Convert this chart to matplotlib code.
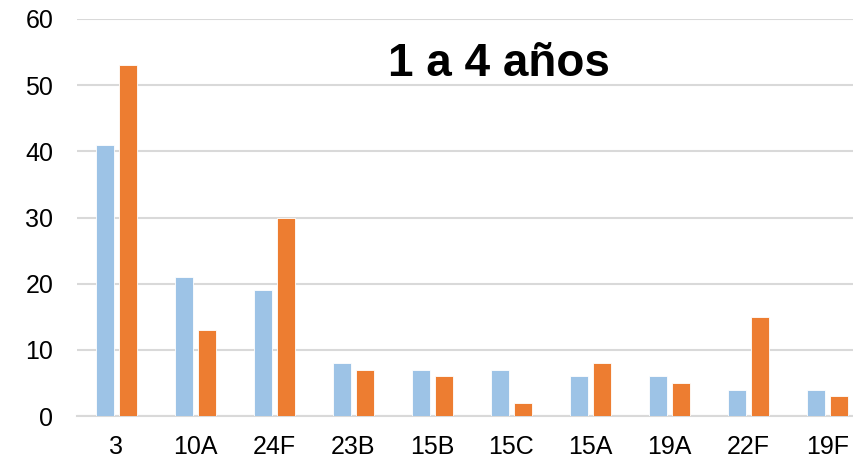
import matplotlib
matplotlib.use("Agg")
import matplotlib.pyplot as plt
import numpy as np

categories = ["3", "10A", "24F", "23B", "15B", "15C", "15A", "19A", "22F", "19F"]
series_blue = [41, 21, 19, 8, 7, 7, 6, 6, 4, 4]
series_orange = [53, 13, 30, 7, 6, 2, 8, 5, 15, 3]
yticks = [0, 10, 20, 30, 40, 50, 60]
title = "1 a 4 años"

plt.rcParams['font.family'] = ['Liberation Sans', 'DejaVu Sans']

W, H = 854, 462
fig = plt.figure(figsize=(W / 100, H / 100), dpi=100)
# axes: left 77px, right 867px (clipped by figure), top y=60 at 19px, bottom y=0 at 416px
left, right = 77, 867
top, bottom = 19, 416
ax = fig.add_axes([left / W, 1 - bottom / H, (right - left) / W, (bottom - top) / H])

x = np.arange(len(categories))
bw = 0.23
off = 0.143
ax.bar(x - off, series_blue, width=bw, color="#9DC3E6", edgecolor="white", linewidth=0.6, zorder=3)
ax.bar(x + off, series_orange, width=bw, color="#ED7D31", edgecolor="white", linewidth=0.6, zorder=3)

ax.set_xlim(-0.5, len(categories) - 0.5)
ax.set_ylim(0, 60)
ax.set_yticks(yticks)
ax.set_yticklabels([str(v) for v in yticks])
ax.set_xticks(x)
ax.set_xticklabels(categories)
ax.grid(axis="y", color="#D9D9D9", linewidth=1.5, zorder=0)
ax.set_axisbelow(True)
for s in ["top", "right", "left"]:
    ax.spines[s].set_visible(False)
ax.spines["bottom"].set_color("#D9D9D9")
ax.spines["bottom"].set_linewidth(1.5)
ax.tick_params(axis="both", length=0, labelsize=18, colors="black")
ax.tick_params(axis="y", pad=17)
ax.tick_params(axis="x", pad=14)

fig.text(499 / W, 1 - 76 / H, title, ha="center", va="baseline",
         fontsize=33, fontweight="bold", color="black")

fig.savefig("out.png", dpi=100)
